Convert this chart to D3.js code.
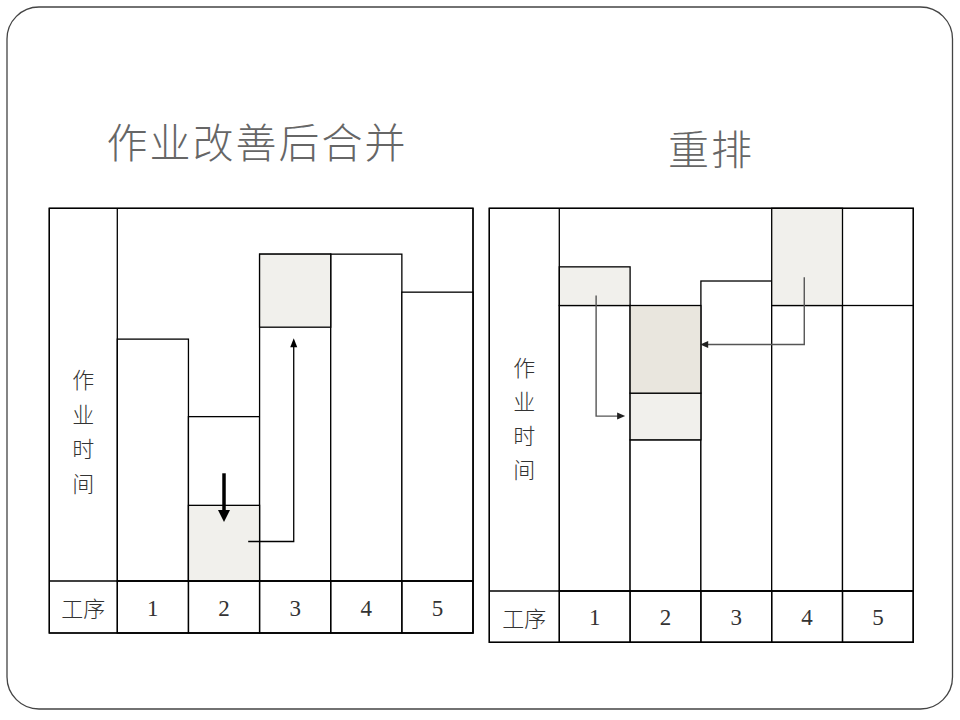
<!DOCTYPE html>
<html><head><meta charset="utf-8">
<script src="https://cdn.jsdelivr.net/npm/d3@7"></script>
<style>body{margin:0;background:#fff}svg{display:block}</style>
</head><body>
<svg id="c" width="960" height="720"></svg>
<script>
// ---------- data ----------
const steps = ["1", "2", "3", "4", "5"];
const axisLabel = "作业时间";
const stepLabel = "工序";

// left chart: 作业改善后合并
const leftTitle = "作业改善后合并";
const leftBarTop = [64.9, 44.1, 87.7, 87.7, 77.5];
const leftSegStep = ["2", "3"];
const leftSegLow = [0, 68.1];
const leftSegHigh = [20.3, 87.7];
const leftSegTone = ["light", "light"];
// arrows: [step, fraction within column, value]
const leftMoveArrow = [["2", 0.84, 10.6], ["3", 0.48, 10.6], ["3", 0.48, 65.1]];
const leftDownArrow = [["2", 0.5, 28.9], ["2", 0.5, 15.8]];

// right chart: 重排
const rightTitle = "重排";
const rightBarTop = [74.6, 39.5, 81.0, 74.6, 74.6];
const rightSegStep = ["1", "2", "2", "4"];
const rightSegLow = [74.6, 39.5, 51.7, 74.6];
const rightSegHigh = [84.7, 51.7, 74.6, 100];
const rightSegTone = ["light", "light", "dark", "light"];
const rightArrowA = [["1", 0.52, 77.2], ["1", 0.52, 45.7], ["2", -0.07, 45.7]];
const rightArrowB = [["4", 0.46, 82.0], ["4", 0.46, 64.4], ["2", 0.99, 64.4]];

// ---------- drawing ----------
const svg = d3.select("#c");
const toneFill = {light: "#f1f0ec", dark: "#e9e6de"};
const CJK = "'Noto Sans CJK SC', sans-serif";
const SERIF = "'Liberation Serif', 'DejaVu Serif', serif";

svg.append("rect").attr("x", 7).attr("y", 7).attr("width", 945.5).attr("height", 702)
  .attr("rx", 32).attr("ry", 32).attr("fill", "#fff").attr("stroke", "#444").attr("stroke-width", 1.3);

function arrowHead(g, pts, len, wid, color) {
  const [x1, y1] = pts[pts.length - 2], [x2, y2] = pts[pts.length - 1];
  const a = Math.atan2(y2 - y1, x2 - x1);
  const bx = x2 - len * Math.cos(a), by = y2 - len * Math.sin(a);
  const px = -Math.sin(a) * wid / 2, py = Math.cos(a) * wid / 2;
  g.append("path").attr("d", `M${x2},${y2}L${bx + px},${by + py}L${bx - px},${by - py}Z`).attr("fill", color);
}

function chart(cfg) {
  const g = svg.append("g");
  const x = d3.scaleBand().domain(steps).range([cfg.labelRight, cfg.right]).paddingInner(0).paddingOuter(0);
  const y = d3.scaleLinear().domain([0, 100]).range([cfg.rowTop, cfg.top]);
  const px = (s, f) => x(s) + f * x.bandwidth();

  // frame
  g.append("rect").attr("x", cfg.left).attr("y", cfg.top).attr("width", cfg.right - cfg.left)
    .attr("height", cfg.bottom - cfg.top).attr("fill", "#fff").attr("stroke", "#000").attr("stroke-width", 1.3);

  // bars
  g.selectAll("rect.bar").data(cfg.barTop).join("rect").attr("class", "bar")
    .attr("x", (d, i) => x(steps[i])).attr("y", d => y(d))
    .attr("width", x.bandwidth()).attr("height", d => y(0) - y(d))
    .attr("fill", "#fff").attr("stroke", "#000").attr("stroke-width", 1.3);

  // shaded segments
  const segs = cfg.segStep.map((s, i) => ({s, lo: cfg.segLow[i], hi: cfg.segHigh[i], tone: cfg.segTone[i]}));
  g.selectAll("rect.seg").data(segs).join("rect").attr("class", "seg")
    .attr("x", d => x(d.s)).attr("y", d => y(d.hi))
    .attr("width", x.bandwidth()).attr("height", d => y(d.lo) - y(d.hi))
    .attr("fill", d => toneFill[d.tone]).attr("stroke", "#000").attr("stroke-width", 1.3);

  // frame lines over bars
  g.append("line").attr("x1", cfg.labelRight).attr("x2", cfg.labelRight).attr("y1", cfg.top).attr("y2", cfg.bottom)
    .attr("stroke", "#000").attr("stroke-width", 1.3);
  g.append("line").attr("x1", cfg.left).attr("x2", cfg.right).attr("y1", cfg.rowTop).attr("y2", cfg.rowTop)
    .attr("stroke", "#000").attr("stroke-width", 1.3);
  g.append("rect").attr("x", cfg.left).attr("y", cfg.top).attr("width", cfg.right - cfg.left)
    .attr("height", cfg.bottom - cfg.top).attr("fill", "none").attr("stroke", "#000").attr("stroke-width", 1.3);

  // bottom label row cells
  g.selectAll("rect.cell").data(steps).join("rect").attr("class", "cell")
    .attr("x", d => x(d)).attr("y", cfg.rowTop).attr("width", x.bandwidth()).attr("height", cfg.bottom - cfg.rowTop)
    .attr("fill", "none").attr("stroke", "#000").attr("stroke-width", 1.3);
  const rowMid = (cfg.rowTop + cfg.bottom) / 2;
  g.selectAll("text.num").data(steps).join("text").attr("class", "num")
    .attr("x", d => x(d) + x.bandwidth() / 2).attr("y", rowMid + 1)
    .attr("text-anchor", "middle").attr("dominant-baseline", "central")
    .attr("font-family", SERIF).attr("font-size", 23).attr("fill", "#333").text(d => d);
  g.append("text").attr("x", (cfg.left + cfg.labelRight) / 2).attr("y", rowMid)
    .attr("text-anchor", "middle").attr("dominant-baseline", "central")
    .attr("font-family", CJK).attr("font-weight", 300).attr("font-size", 22).attr("fill", "#333").text(stepLabel);

  // vertical axis label
  g.selectAll("text.ax").data(Array.from(axisLabel)).join("text").attr("class", "ax")
    .attr("x", (cfg.left + cfg.labelRight) / 2).attr("y", (d, i) => cfg.axisY0 + i * cfg.axisStep)
    .attr("text-anchor", "middle").attr("dominant-baseline", "central")
    .attr("font-family", CJK).attr("font-weight", 300).attr("font-size", 22).attr("fill", "#333").text(d => d);

  // title
  g.append("text").attr("x", cfg.titleX).attr("y", cfg.titleY)
    .attr("text-anchor", "middle").attr("dominant-baseline", "central")
    .attr("font-family", CJK).attr("font-weight", 300).attr("font-size", 41).attr("letter-spacing", 2)
    .attr("fill", "#666").text(cfg.title);

  // arrows
  cfg.arrows.forEach(a => {
    const pts = a.path.map(p => [px(p[0], p[1]), y(p[2])]);
    const last = pts[pts.length - 1], prev = pts[pts.length - 2];
    const ang = Math.atan2(last[1] - prev[1], last[0] - prev[0]);
    const linePts = pts.slice(0, -1).concat([[last[0] - (a.len - 1) * Math.cos(ang), last[1] - (a.len - 1) * Math.sin(ang)]]);
    g.append("path").attr("d", d3.line()(linePts)).attr("fill", "none")
      .attr("stroke", a.color).attr("stroke-width", a.width);
    arrowHead(g, pts, a.len, a.head, a.headColor);
  });
}

chart({
  left: 49.3, labelRight: 117.3, right: 473, top: 208.3, rowTop: 581, bottom: 633,
  barTop: leftBarTop, segStep: leftSegStep, segLow: leftSegLow, segHigh: leftSegHigh, segTone: leftSegTone,
  axisY0: 378, axisStep: 34.7, title: leftTitle, titleX: 257, titleY: 140,
  arrows: [
    {path: leftMoveArrow, color: "#000", width: 1.3, len: 9, head: 7, headColor: "#000"},
    {path: leftDownArrow, color: "#000", width: 3.5, len: 12, head: 12, headColor: "#000"}
  ]
});
chart({
  left: 489.3, labelRight: 559.3, right: 913.3, top: 208.3, rowTop: 591, bottom: 642.3,
  barTop: rightBarTop, segStep: rightSegStep, segLow: rightSegLow, segHigh: rightSegHigh, segTone: rightSegTone,
  axisY0: 366, axisStep: 34, title: rightTitle, titleX: 711, titleY: 147,
  arrows: [
    {path: rightArrowA, color: "#555", width: 1.4, len: 8, head: 7, headColor: "#222"},
    {path: rightArrowB, color: "#555", width: 1.4, len: 8, head: 7, headColor: "#222"}
  ]
});
</script>
</body></html>
